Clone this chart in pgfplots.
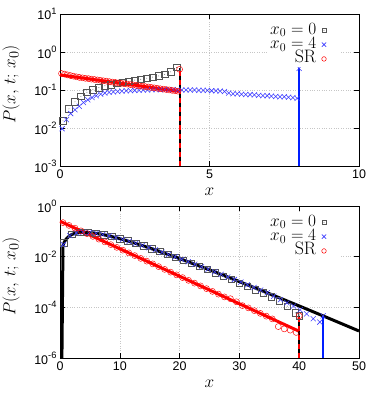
\documentclass[border=0pt]{standalone}
\usepackage{fontspec}
\newfontfamily\lsans{Liberation Sans}
\usepackage{pgfplots}
\pgfplotsset{compat=1.18}
\definecolor{sqgray}{RGB}{85,85,85}
\definecolor{xblue}{RGB}{60,60,255}
\definecolor{lblue}{RGB}{0,30,255}
\newcommand\ee[1]{10\raisebox{5.7pt}{\fontsize{9.3}{10}\selectfont #1}}
\pgfdeclareplotmark{sqdot}{%
  \pgfpathrectangle{\pgfqpoint{-\pgfplotmarksize}{-\pgfplotmarksize}}{\pgfqpoint{2\pgfplotmarksize}{2\pgfplotmarksize}}%
  \pgfusepathqstroke
  \pgfpathcircle{\pgfpointorigin}{0.45pt}%
  \pgfusepathqfill
}
\pgfplotsset{
  scale only axis, width=299pt, height=152pt,
  axis line style={line width=0.8pt},
  every tick/.style={black, line width=0.6pt},
  tick align=inside, major tick length=5pt,
  grid=major, major grid style={dotted, gray!45, line width=0.45pt},
  ticklabel style={font=\lsans\fontsize{12.5}{14}\selectfont},
  label style={font=\fontsize{19}{22}\selectfont},
  xlabel style={at={(axis description cs:0.5,-0.17)}, anchor=center},
  ylabel style={at={(axis description cs:-0.164,0.536)}, anchor=center},
  legend style={draw=none, fill=white, at={(1,1)}, anchor=north east,
    xshift=-18pt, yshift=-8pt, inner sep=1pt, row sep=0pt,
    font=\fontsize{18}{14}\selectfont, text=black,
    nodes={inner sep=1pt, text height=10pt, text depth=2.3pt}},
  legend cell align=right, legend plot pos=right,
  legend image code/.code={\path (0pt,0pt) (22pt,0pt); \draw[#1] plot coordinates {(6.5pt,0pt)};},
}
\begin{document}
\begin{tikzpicture}
\begin{semilogyaxis}[name=top,
  xlabel={$x$}, ylabel={$P(x,\,t;\,x_0)$},
  yminorticks=false,
  xmin=0, xmax=10, ymin=1e-3, ymax=10,
  xtick={0,5,10}, xticklabels={0,5,10},
  ytick={1e-3,1e-2,1e-1,1,10},
  yticklabels={\ee{-3},\ee{-2},\ee{-1},\ee{0},\ee{1}}]
\addlegendimage{only marks, mark=sqdot, mark size=2.2pt, draw=sqgray, fill=sqgray, line width=0.6pt}\addlegendentry{$x_0=0$}
\addlegendimage{only marks, mark=x, mark size=3pt, color=xblue, line width=0.6pt}\addlegendentry{$x_0=4$}
\addlegendimage{only marks, mark=o, mark size=2.3pt, color=red, line width=0.5pt}\addlegendentry{SR\hspace{10pt}}
% x0 = 0
\addplot[only marks, mark=sqdot, mark size=3.2pt, draw=sqgray, fill=sqgray, line width=0.6pt, forget plot] coordinates {
(0.1,0.0155) (0.3,0.032) (0.5,0.049) (0.7,0.068) (0.9,0.087) (1.1,0.102) (1.3,0.115)
(1.5,0.129) (1.7,0.138) (1.9,0.148) (2.1,0.158) (2.3,0.17) (2.5,0.182) (2.7,0.19)
(2.9,0.204) (3.1,0.219) (3.3,0.234) (3.5,0.257) (3.7,0.30) (3.9,0.39)};
% x0 = 4
\addplot[only marks, mark=x, mark size=3.6pt, color=xblue, line width=0.55pt, forget plot] coordinates {
(0.071,0.00955) (0.214,0.0166) (0.357,0.0240) (0.500,0.0302) (0.643,0.0372) (0.786,0.0468)
(0.929,0.0550) (1.071,0.0631) (1.214,0.0708) (1.357,0.0776) (1.500,0.0832) (1.643,0.0871)
(1.786,0.0891) (1.929,0.0912) (2.071,0.0933) (2.214,0.0955) (2.357,0.0955) (2.500,0.0977)
(2.643,0.0977) (2.786,0.100) (2.929,0.100) (3.071,0.1023) (3.214,0.1023) (3.357,0.1023)
(3.500,0.1023) (3.643,0.1023) (3.786,0.1023) (3.929,0.100) (4.071,0.100) (4.214,0.100)
(4.357,0.100) (4.500,0.100) (4.643,0.0977) (4.786,0.0977) (4.929,0.0977) (5.071,0.0955)
(5.214,0.0955) (5.357,0.0933) (5.500,0.0912) (5.643,0.0832) (5.786,0.0794) (5.929,0.0794)
(6.071,0.0776) (6.214,0.0759) (6.357,0.0759) (6.500,0.0741) (6.643,0.0724) (6.786,0.0708)
(6.929,0.0708) (7.071,0.0692) (7.214,0.0676) (7.357,0.0661) (7.500,0.0661) (7.643,0.0646)
(7.786,0.0631) (7.929,0.0603) (8.0,0.37)};
% SR
\addplot[only marks, mark=o, mark size=3pt, color=red, line width=0.45pt, forget plot] coordinates {
(0.05,0.272) (0.15,0.262) (0.25,0.250) (0.35,0.240) (0.45,0.231) (0.55,0.222) (0.65,0.214)
(0.75,0.209) (0.85,0.203) (0.95,0.199) (1.05,0.193) (1.15,0.189) (1.25,0.184) (1.35,0.180)
(1.45,0.175) (1.55,0.171) (1.65,0.166) (1.75,0.162) (1.85,0.158) (1.95,0.154) (2.05,0.150)
(2.15,0.146) (2.25,0.143) (2.35,0.139) (2.45,0.136) (2.55,0.132) (2.65,0.129) (2.75,0.126)
(2.85,0.123) (2.95,0.120) (3.05,0.117) (3.15,0.114) (3.25,0.111) (3.35,0.108) (3.45,0.1055)
(3.55,0.103) (3.65,0.1004) (3.75,0.0979) (3.85,0.0955) (3.95,0.0931) (4.0,0.35)};
% lines
\addplot[red, line width=3pt, forget plot] coordinates {(0,0.25) (2,0.1516) (4,0.09197)};
\addplot[black, line width=2pt, forget plot] coordinates {(4,1e-3) (4,0.37)};
\addplot[red, line width=2pt, dash pattern=on 5pt off 4pt, forget plot] coordinates {(4,1e-3) (4,0.37)};
\addplot[lblue, line width=2pt, forget plot] coordinates {(8,1e-3) (8,0.37)};
\end{semilogyaxis}

\begin{semilogyaxis}[name=bot, at={(0pt,-40pt)}, anchor=north west,
  xlabel={$x$}, ylabel={$P(x,\,t;\,x_0)$},
  yminorticks=false,
  xmin=0, xmax=50, ymin=1e-6, ymax=1,
  xtick={0,10,20,30,40,50}, xticklabels={0,10,20,30,40,50},
  ytick={1e-6,1e-4,1e-2,1},
  yticklabels={\ee{-6},\ee{-4},\ee{-2},\ee{0}}]
\addlegendimage{only marks, mark=sqdot, mark size=2.2pt, draw=sqgray, fill=sqgray, line width=0.6pt}\addlegendentry{$x_0=0$}
\addlegendimage{only marks, mark=x, mark size=3pt, color=xblue, line width=0.6pt}\addlegendentry{$x_0=4$}
\addlegendimage{only marks, mark=o, mark size=2.3pt, color=red, line width=0.5pt}\addlegendentry{SR\hspace{10pt}}
% x0 = 0
\addplot[only marks, mark=sqdot, mark size=3.2pt, draw=sqgray, fill=sqgray, line width=0.6pt, forget plot] coordinates {
(0.667,0.0353) (2.0,0.0758) (3.333,0.0905) (4.667,0.0908) (6.0,0.0837) (7.333,0.0733)
(8.667,0.0621) (10.0,0.0513) (11.333,0.0417) (12.667,0.0334) (14.0,0.0264) (15.333,0.0207)
(16.667,0.0161) (18.0,0.0125) (19.333,9.62e-3) (20.667,7.37e-3) (22.0,5.62e-3) (23.333,4.27e-3)
(24.667,3.24e-3) (26.0,2.29e-3) (27.333,1.70e-3) (28.667,1.26e-3) (30.0,9.12e-4) (31.333,6.76e-4)
(32.667,5.01e-4) (34.0,3.80e-4) (35.333,2.63e-4) (36.667,1.78e-4) (38.0,1.12e-4) (39.333,6.03e-5)
(40.0,4.6e-5)};
% x0 = 4
\addplot[only marks, mark=x, mark size=3.6pt, color=xblue, line width=0.55pt, forget plot] coordinates {
(0.55,0.0300) (1.65,0.0683) (2.75,0.0864) (3.85,0.0919) (4.95,0.0898) (6.05,0.0833)
(7.15,0.0748) (8.25,0.0656) (9.35,0.0564) (10.45,0.0479) (11.55,0.0402) (12.65,0.0335)
(13.75,0.0276) (14.85,0.0227) (15.95,0.0185) (17.05,0.0150) (18.15,0.0121) (19.25,9.78e-3)
(20.35,7.86e-3) (21.45,6.29e-3) (22.55,5.02e-3) (23.65,4.00e-3) (24.75,3.18e-3) (25.85,2.52e-3)
(26.95,2.00e-3) (28.05,1.58e-3) (29.15,1.25e-3) (30.25,9.82e-4) (31.35,7.73e-4) (32.45,6.08e-4)
(33.55,4.78e-4) (34.65,3.75e-4) (35.75,2.75e-4) (36.85,2.00e-4) (37.95,1.51e-4) (39.05,1.12e-4)
(40.15,7.94e-5) (41.25,5.50e-5) (42.35,3.55e-5) (43.45,2.63e-5) (44.0,4.6e-5)};
% SR
\addplot[only marks, mark=o, mark size=3pt, color=red, line width=0.45pt, forget plot] coordinates {
(0.5,0.2206) (1.5,0.1718) (2.5,0.1338) (3.5,0.1042) (4.5,0.0812) (5.5,0.0632) (6.5,0.0492)
(7.5,0.0383) (8.5,0.0299) (9.5,0.0233) (10.5,0.0181) (11.5,0.0141) (12.5,0.0110) (13.5,8.55e-3)
(14.5,6.66e-3) (15.5,5.19e-3) (16.5,4.04e-3) (17.5,3.15e-3) (18.5,2.45e-3) (19.5,1.91e-3)
(20.5,1.49e-3) (21.5,1.16e-3) (22.5,9.02e-4) (23.5,7.02e-4) (24.5,5.47e-4) (25.5,4.26e-4)
(26.5,3.32e-4) (27.5,2.58e-4) (28.5,2.19e-4) (29.5,1.66e-4) (30.5,1.17e-4) (31.5,9.51e-5)
(32.5,7.40e-5) (33.5,5.77e-5) (34.5,4.49e-5) (35.5,3.50e-5) (36.5,1.74e-5) (37.5,1.41e-5)
(38.5,1.26e-5) (39.5,1.02e-5) (40.0,4.6e-5)};
% theory lines
\addplot[red, line width=3pt, forget plot] coordinates {(0,0.25) (20,1.684e-3) (40,1.135e-5)};
\addplot[black, line width=3pt, forget plot] coordinates {
(0.28,1e-7) (0.5,0.02758) (0.7,0.0367) (1,0.04868) (1.5,0.06443) (2,0.07582) (2.5,0.0836)
(3,0.08857) (4,0.09197) (5,0.08953) (6,0.08367) (7,0.0760) (8,0.06767) (10,0.05130)
(12,0.03734) (15,0.02205) (20,0.008422) (25,0.003016) (30,1.037e-3) (35,3.467e-4)
(40,1.135e-4) (45,3.659e-5) (50,1.165e-5)};
\addplot[black, line width=2pt, forget plot] coordinates {(40,1e-6) (40,4.6e-5)};
\addplot[red, line width=2pt, dash pattern=on 5pt off 4pt, forget plot] coordinates {(40,1e-6) (40,4.6e-5)};
\addplot[lblue, line width=2pt, forget plot] coordinates {(44,1e-6) (44,4.6e-5)};
\end{semilogyaxis}
\pgfresetboundingbox
\path[use as bounding box] (-60pt,-229pt) rectangle (311pt,166pt);
\end{tikzpicture}
\end{document}
